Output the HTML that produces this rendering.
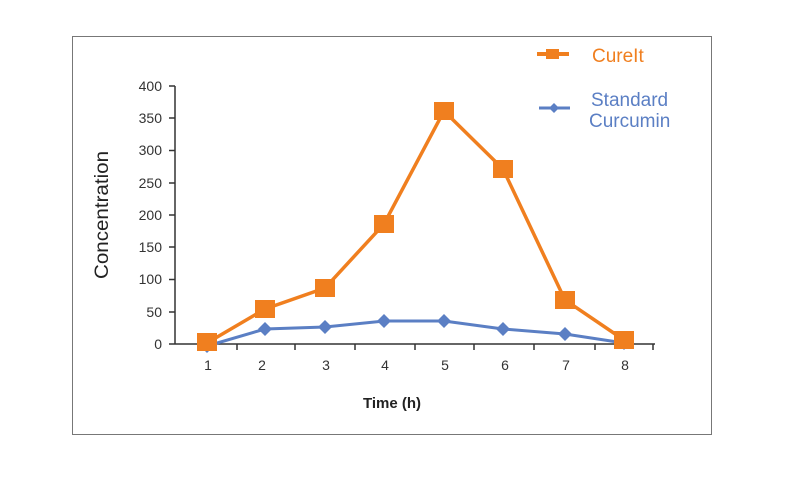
<!DOCTYPE html>
<html><head><style>body{margin:0;background:#fff}</style></head><body>
<svg width="788" height="487" xmlns="http://www.w3.org/2000/svg" font-family="Liberation Sans, sans-serif">
<rect x="72.5" y="36.5" width="639" height="398" fill="#fff" stroke="#777" stroke-width="1"/>
<g stroke="#333" stroke-width="1.5" fill="none">
<line x1="175" y1="86" x2="175" y2="344"/>
<line x1="175" y1="344" x2="655" y2="344"/>
<line x1="169" y1="86" x2="175" y2="86"/><line x1="169" y1="118" x2="175" y2="118"/>
<line x1="169" y1="150.5" x2="175" y2="150.5"/><line x1="169" y1="183" x2="175" y2="183"/>
<line x1="169" y1="215" x2="175" y2="215"/><line x1="169" y1="247" x2="175" y2="247"/>
<line x1="169" y1="279.5" x2="175" y2="279.5"/><line x1="169" y1="312" x2="175" y2="312"/>
<line x1="169" y1="344" x2="175" y2="344"/>
<line x1="237" y1="344" x2="237" y2="350"/><line x1="295" y1="344" x2="295" y2="350"/>
<line x1="355" y1="344" x2="355" y2="350"/><line x1="415" y1="344" x2="415" y2="350"/>
<line x1="474" y1="344" x2="474" y2="350"/><line x1="534" y1="344" x2="534" y2="350"/>
<line x1="595" y1="344" x2="595" y2="350"/><line x1="653" y1="344" x2="653" y2="350"/>
</g>
<g font-size="14" fill="#333" text-anchor="end">
<text x="162" y="91">400</text><text x="162" y="123">350</text><text x="162" y="155">300</text>
<text x="162" y="188">250</text><text x="162" y="220">200</text><text x="162" y="252">150</text>
<text x="162" y="284">100</text><text x="162" y="317">50</text><text x="162" y="349">0</text>
</g>
<g font-size="14" fill="#333" text-anchor="middle">
<text x="208" y="370">1</text><text x="262" y="370">2</text><text x="326" y="370">3</text>
<text x="385" y="370">4</text><text x="445" y="370">5</text><text x="505" y="370">6</text>
<text x="566" y="370">7</text><text x="625" y="370">8</text>
</g>
<text x="392" y="408" font-size="15" font-weight="bold" text-anchor="middle" fill="#222">Time (h)</text>
<text transform="translate(108,215) rotate(-90)" font-size="19" text-anchor="middle" fill="#222" textLength="128" lengthAdjust="spacingAndGlyphs">Concentration</text>
<polyline points="207,346 265,329 325,327 384,321 444,321 503,329 565,334 624,343" fill="none" stroke="#5b7fc4" stroke-width="3"/>
<g fill="#5b7fc4">
<path d="M207,339 l7,7 -7,7 -7,-7z"/><path d="M265,322 l7,7 -7,7 -7,-7z"/><path d="M325,320 l7,7 -7,7 -7,-7z"/>
<path d="M384,314 l7,7 -7,7 -7,-7z"/><path d="M444,314 l7,7 -7,7 -7,-7z"/><path d="M503,322 l7,7 -7,7 -7,-7z"/>
<path d="M565,327 l7,7 -7,7 -7,-7z"/><path d="M624,336 l7,7 -7,7 -7,-7z"/>
</g>
<polyline points="207,343 265,309 325,288 384,224 444,111 503,169 565,300 624,340" fill="none" stroke="#f07f1f" stroke-width="3.5"/>
<g fill="#f07f1f">
<rect x="197" y="333" width="20" height="18"/><rect x="255" y="300" width="20" height="18"/>
<rect x="315" y="279" width="20" height="18"/><rect x="374" y="215" width="20" height="18"/>
<rect x="434" y="102" width="20" height="18"/><rect x="493" y="160" width="20" height="18"/>
<rect x="555" y="291" width="20" height="18"/><rect x="614" y="331" width="20" height="18"/>
</g>
<line x1="537" y1="54" x2="569" y2="54" stroke="#f07f1f" stroke-width="4"/>
<rect x="546" y="49" width="13" height="10" fill="#f07f1f"/>
<text x="592" y="62" font-size="19" fill="#f07f1f">CureIt</text>
<line x1="539" y1="108" x2="570" y2="108" stroke="#5b7fc4" stroke-width="3"/>
<path d="M554,103 l5,5 -5,5 -5,-5z" fill="#5b7fc4"/>
<text x="591" y="106" font-size="19" fill="#5b7fc4">Standard</text>
<text x="589" y="127" font-size="19" fill="#5b7fc4">Curcumin</text>
</svg>
</body></html>
